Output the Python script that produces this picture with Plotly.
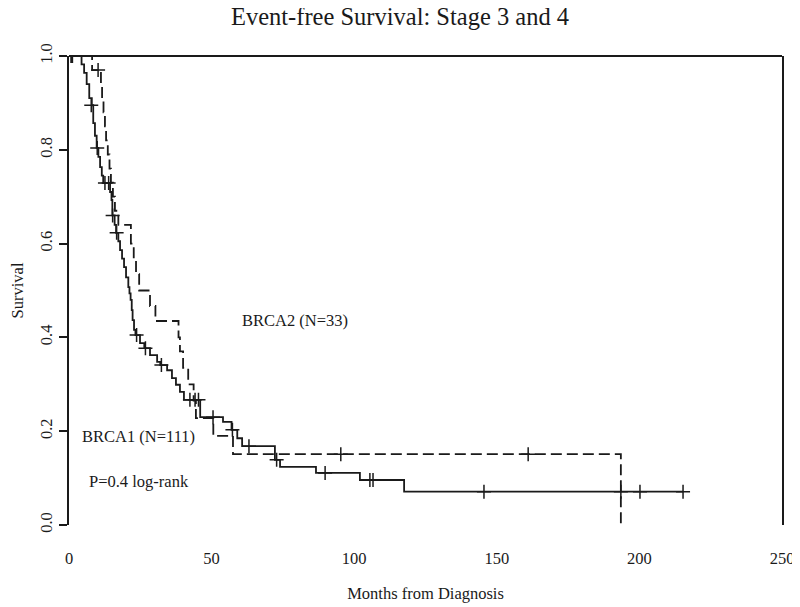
import plotly.graph_objects as go

# BRCA1 (solid) Kaplan-Meier step curve: time (months) and survival after each step
brca1_time = [0, 4.4, 5.3, 6.2, 7.1, 8.0, 8.5, 9.1, 9.7, 10.3, 10.9, 11.5, 12.0, 14.4, 14.9,
              15.2, 16.0, 16.5, 17.3, 17.9, 18.6, 19.3, 20.0, 20.8, 21.2, 21.6, 22.0, 22.3,
              22.8, 23.3, 24.9, 26.4, 28.4, 30.9, 32.0, 34.4, 36.1, 37.5, 38.9, 40.3, 46.0,
              54.0, 57.0, 59.0, 60.7, 72.2, 74.0, 86.6, 102.0, 117.5, 215.3]
brca1_surv = [1.0, 0.982, 0.964, 0.94, 0.91, 0.895, 0.857, 0.83, 0.804, 0.785, 0.763, 0.745,
              0.729, 0.71, 0.693, 0.66, 0.64, 0.623, 0.605, 0.586, 0.568, 0.55, 0.528, 0.507,
              0.494, 0.48, 0.458, 0.437, 0.416, 0.405, 0.388, 0.377, 0.362, 0.348, 0.341,
              0.33, 0.313, 0.299, 0.284, 0.267, 0.23, 0.22, 0.203, 0.185, 0.168, 0.139,
              0.124, 0.111, 0.096, 0.071, 0.071]
brca1_cens_time = [0.7, 1.2, 7.8, 9.9, 12.6, 13.9, 15.3, 16.7, 23.7, 26.8, 32.4, 42.4, 44.2,
                   45.4, 50.5, 57.3, 63.1, 72.8, 89.8, 105.5, 106.6, 145.5, 193.5, 200.2, 215.3]
brca1_cens_surv = [1.0, 1.0, 0.895, 0.804, 0.729, 0.729, 0.66, 0.623, 0.405, 0.377, 0.341,
                   0.267, 0.267, 0.267, 0.23, 0.203, 0.168, 0.139, 0.111, 0.096, 0.096,
                   0.071, 0.071, 0.071, 0.071]

# BRCA2 (dashed)
brca2_time = [0, 8.1, 11.2, 11.6, 12.1, 12.6, 13.0, 13.6, 14.2, 14.7, 15.4, 16.1, 17.3, 21.7,
              22.7, 23.5, 24.6, 28.4, 30.3, 38.4, 38.9, 40.0, 41.8, 43.7, 44.5, 50.6, 57.5,
              193.5]
brca2_surv = [1.0, 0.97, 0.94, 0.91, 0.88, 0.85, 0.82, 0.79, 0.76, 0.73, 0.70, 0.67, 0.64,
              0.60, 0.565, 0.535, 0.50, 0.467, 0.435, 0.40, 0.37, 0.335, 0.30, 0.265, 0.228,
              0.19, 0.151, 0.0]
brca2_cens_time = [1.0, 10.2, 95.3, 161.0]
brca2_cens_surv = [1.0, 0.97, 0.151, 0.151]

x_ticks = [0, 50, 100, 150, 200, 250]
y_ticks = [0.0, 0.2, 0.4, 0.6, 0.8, 1.0]

FONT = "Liberation Serif"
INK = "#1a1a1a"

# the page body adds an 8px offset; size the figure so it fills the 800x607 window
W, H = 792, 599

fig = go.Figure()
fig.add_trace(go.Scatter(x=brca1_time, y=brca1_surv, mode="lines", line_shape="hv",
                         line=dict(color=INK, width=1.8), name="BRCA1", showlegend=False))
fig.add_trace(go.Scatter(x=brca2_time, y=brca2_surv, mode="lines", line_shape="hv",
                         line=dict(color=INK, width=1.8, dash="11px,5px"), name="BRCA2",
                         showlegend=False))
fig.add_trace(go.Scatter(x=brca1_cens_time, y=brca1_cens_surv, mode="markers",
                         marker=dict(symbol="cross-thin", size=10, line=dict(color=INK, width=1.5)),
                         showlegend=False))
fig.add_trace(go.Scatter(x=brca2_cens_time, y=brca2_cens_surv, mode="markers",
                         marker=dict(symbol="cross-thin", size=10, line=dict(color=INK, width=1.5)),
                         showlegend=False))

fig.add_annotation(x=60, y=0.437, text="BRCA2 (N=33)", showarrow=False, xanchor="left",
                   font=dict(family=FONT, size=16.5, color=INK))
fig.add_annotation(x=3.9, y=0.188, text="BRCA1 (N=111)", showarrow=False, xanchor="left",
                   font=dict(family=FONT, size=16.5, color=INK))
fig.add_annotation(x=6.3, y=0.092, text="P=0.4 log-rank", showarrow=False, xanchor="left",
                   font=dict(family=FONT, size=16.5, color=INK))

# top border of the box
fig.add_shape(type="line", xref="paper", yref="paper", x0=0, x1=1, y0=1, y1=1,
              line=dict(color=INK, width=2))

fig.update_layout(
    width=W, height=H,
    margin=dict(l=61, r=18, t=48, b=82, autoexpand=False),
    paper_bgcolor="white", plot_bgcolor="white",
    title=dict(text="Event-free Survival: Stage 3 and 4", x=392 / W, xanchor="center",
               y=1 - 8 / H, yanchor="middle",
               font=dict(family=FONT, size=24.5, color=INK)),
    font=dict(family=FONT, color=INK),
    xaxis=dict(range=[0, 250], tickvals=x_ticks, ticktext=[str(v) for v in x_ticks],
               showgrid=False, zeroline=False, showline=False, automargin=False,
               ticks="outside", ticklen=18, tickcolor="rgba(0,0,0,0)",
               tickfont=dict(family=FONT, size=16.5, color=INK),
               title=dict(text="Months from Diagnosis", standoff=20,
                          font=dict(family=FONT, size=16.5, color=INK))),
    yaxis=dict(range=[0, 1], tickvals=y_ticks, tickformat=".1f", tickangle=-90,
               showgrid=False, zeroline=False, showline=True, mirror=True,
               linecolor=INK, linewidth=2, automargin=False,
               ticks="outside", ticklen=8, tickwidth=1.5, tickcolor=INK,
               tickfont=dict(family=FONT, size=16.5, color=INK),
               title=dict(text="Survival", standoff=12,
                          font=dict(family=FONT, size=16.5, color=INK))),
)

fig.write_html("out.html")
